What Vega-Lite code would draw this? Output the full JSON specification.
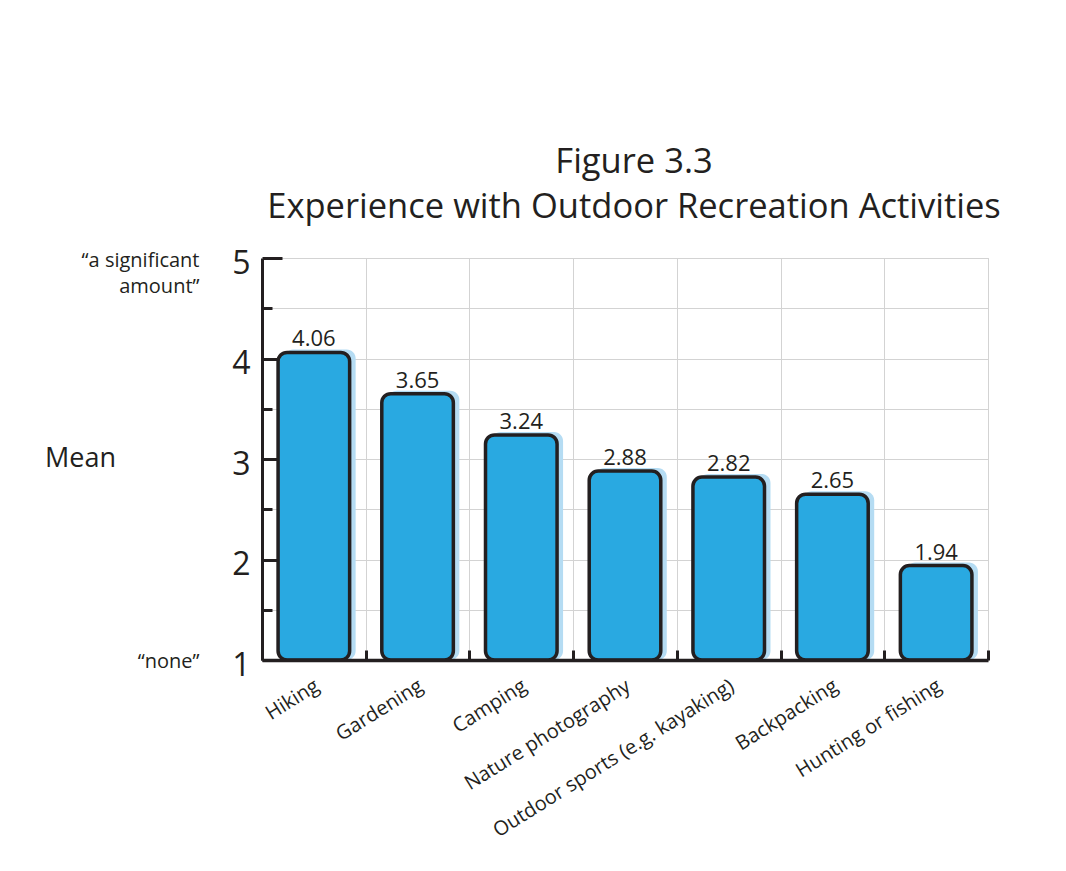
{
  "$schema": "https://vega.github.io/schema/vega-lite/v6.json",
  "width": 726,
  "height": 402,
  "autosize": {"type": "none"},
  "padding": {"left": 262, "top": 258, "right": 78, "bottom": 211},
  "background": "white",
  "title": {
    "text": ["Figure 3.3", "Experience with Outdoor Recreation Activities"],
    "font": "Open Sans",
    "fontSize": 34.5,
    "fontWeight": "normal",
    "color": "#231f20",
    "lineHeight": 45,
    "offset": 22,
    "dx": 9,
    "anchor": "middle"
  },
  "data": {
    "values": [
      {"activity": "Hiking", "mean": 4.06},
      {"activity": "Gardening", "mean": 3.65},
      {"activity": "Camping", "mean": 3.24},
      {"activity": "Nature photography", "mean": 2.88},
      {"activity": "Outdoor sports (e.g. kayaking)", "mean": 2.82},
      {"activity": "Backpacking", "mean": 2.65},
      {"activity": "Hunting or fishing", "mean": 1.94}
    ]
  },
  "encoding": {
    "x": {
      "field": "activity",
      "type": "nominal",
      "sort": null,
      "scale": {"paddingInner": 0, "paddingOuter": 0},
      "axis": {
        "orient": "bottom",
        "title": null,
        "tickBand": "extent",
        "ticks": true,
        "tickSize": -10,
        "tickWidth": 3,
        "tickColor": "#231f20",
        "grid": true,
        "gridColor": "#d3d3d3",
        "gridWidth": 1,
        "domain": true,
        "domainColor": "#231f20",
        "domainWidth": 3.5,
        "labelAngle": -32,
        "labelAlign": "right",
        "labelBaseline": "middle",
        "labelFont": "Open Sans",
        "labelFontSize": 20,
        "labelColor": "#231f20",
        "labelPadding": 34,
        "labelOffset": 3,
        "labelLimit": 400,
        "zindex": 1
      }
    }
  },
  "layer": [
    {
      "mark": {"type": "bar", "width": {"band": 0.69}, "color": "#b5dcf3", "cornerRadius": 9, "xOffset": 6, "yOffset": -3},
      "encoding": {
        "y": {
          "field": "mean",
          "type": "quantitative",
          "scale": {"domain": [1, 5], "zero": false, "nice": false},
          "axis": {
            "orient": "left",
            "title": null,
            "values": [1, 2, 3, 4, 5],
            "ticks": false,
            "grid": false,
            "domain": true,
            "domainColor": "#231f20",
            "domainWidth": 3,
            "labelFont": "Open Sans",
            "labelFontSize": 32,
            "labelColor": "#231f20",
            "labelPadding": 12,
            "labelOffset": 5,
            "labelBaseline": "middle",
            "zindex": 1
          }
        },
        "y2": {"datum": 1}
      }
    },
    {
      "mark": {"type": "bar", "width": {"band": 0.69}, "color": "#29a9e1", "stroke": "#231f20", "strokeWidth": 3.5, "cornerRadius": 9},
      "encoding": {
        "y": {
          "field": "mean",
          "type": "quantitative",
          "scale": {"domain": [1, 5], "zero": false, "nice": false},
          "axis": {
            "orient": "left",
            "title": null,
            "values": [1, 1.5, 2, 2.5, 3, 3.5, 4, 4.5, 5],
            "labels": false,
            "domain": false,
            "grid": true,
            "gridColor": "#d3d3d3",
            "gridWidth": 1,
            "ticks": true,
            "tickColor": "#231f20",
            "tickWidth": 3,
            "tickSize": {"condition": {"test": "datum.value % 1 === 0", "value": -20}, "value": -10},
            "zindex": 0
          }
        },
        "y2": {"datum": 1}
      }
    },
    {
      "mark": {"type": "text", "baseline": "alphabetic", "dy": -6, "font": "Open Sans", "fontSize": 22, "color": "#231f20"},
      "encoding": {
        "y": {
          "field": "mean",
          "type": "quantitative",
          "scale": {"domain": [1, 5], "zero": false, "nice": false},
          "axis": {
            "orient": "left",
            "values": [1, 5],
            "ticks": false,
            "domain": false,
            "grid": false,
            "labelExpr": "datum.value == 5 ? ['“a significant', 'amount”'] : '“none”'",
            "labelFont": "Open Sans",
            "labelFontSize": 20,
            "labelColor": "#231f20",
            "labelPadding": 63,
            "labelLineHeight": 26,
            "labelBaseline": {"condition": {"test": "datum.value == 5", "value": "top"}, "value": "middle"},
            "labelOffset": {"condition": {"test": "datum.value == 5", "value": -8}, "value": 1},
            "title": "Mean",
            "titleAngle": 0,
            "titleX": -182,
            "titleY": 200,
            "titleAlign": "center",
            "titleBaseline": "middle",
            "titleFont": "Open Sans",
            "titleFontSize": 27,
            "titleFontWeight": "normal",
            "titleColor": "#231f20"
          }
        },
        "text": {"field": "mean", "format": ".2f"}
      }
    }
  ],
  "resolve": {"axis": {"y": "independent"}},
  "config": {"view": {"stroke": "#d3d3d3", "strokeWidth": 1}}
}
